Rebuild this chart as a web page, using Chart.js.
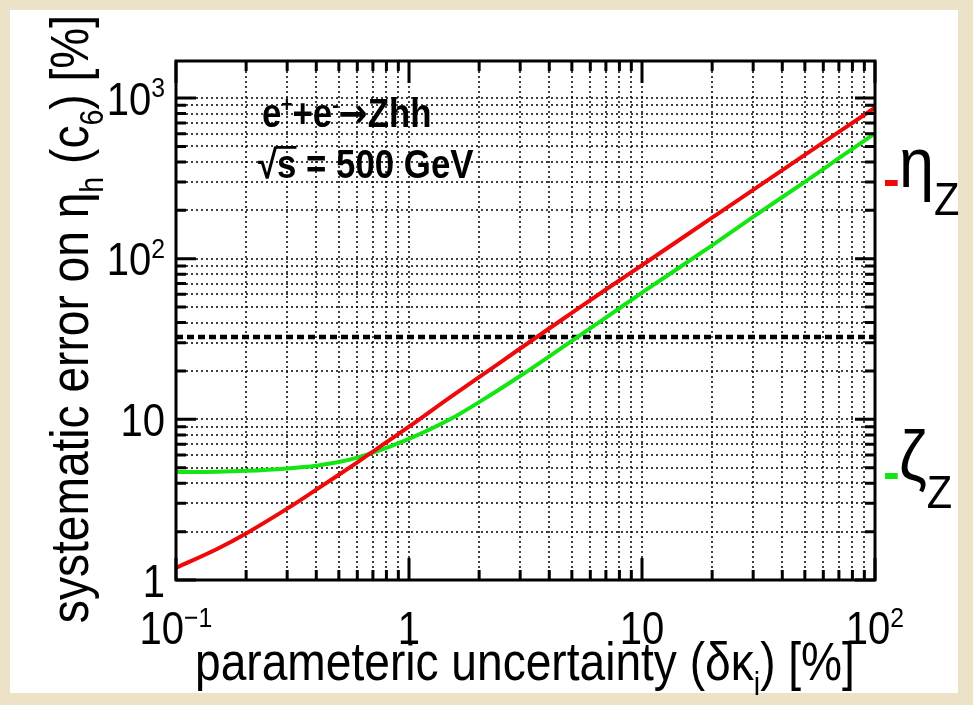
<!DOCTYPE html>
<html>
<head>
<meta charset="utf-8">
<script src="https://cdn.jsdelivr.net/npm/chart.js@4"></script>
<style>
  html, body { margin: 0; padding: 0; background: #ece2c7; overflow: hidden; }
  canvas { position: absolute; left: 0; top: 0; }
</style>
</head>
<body>
<canvas id="chart" width="973" height="705"></canvas>
<script>
// values (log-log)
const kappa = [0.1, 0.15, 0.2, 0.3, 0.4, 0.5, 0.6, 0.7, 0.8, 1, 1.5, 2, 3, 5, 7, 10, 20, 30, 50, 70, 100];
const etaZ  = [1.19, 1.56, 1.95, 2.78, 3.65, 4.52, 5.4, 6.3, 7.2, 9.0, 13.7, 18.3, 27.6, 46, 64.3, 91, 180, 268, 443, 615, 870];
const zetaZ = [4.70, 4.72, 4.78, 4.95, 5.15, 5.42, 5.78, 6.2, 6.65, 7.55, 10.0, 12.8, 18.6, 30.8, 43.0, 61.5, 121, 182, 301, 422, 603];
const refLevel = 32.6;

const xRange = [0.1, 100];
const yRange = [1, 1700];

const xMajor = [0.1, 1, 10, 100];
const xMajorBase = ["10", "1", "10", "10"];
const xMajorExp = ["\u22121", "", "", "2"];
const yMajor = [1, 10, 100, 1000];
const yMajorBase = ["1", "10", "10", "10"];
const yMajorExp = ["", "", "2", "3"];

const seriesNames = ["\u03b7", "\u03b6"];
const seriesSub = ["Z", "Z"];
const seriesColors = ["#ee0a0a", "#14e614"];

const FONT = '"Liberation Sans", Arial, Helvetica, sans-serif';

function logTicks(min, max) {
    const out = [];
    for (let e = Math.floor(Math.log10(min)); e <= Math.ceil(Math.log10(max)); e++) {
        for (let m = 1; m <= 9; m++) {
            const v = +(m * Math.pow(10, e)).toPrecision(6);
            if (v >= min * 0.999 && v <= max * 1.001) out.push(v);
        }
    }
    return out;
}

function partFont(p, size, bold) {
    const s = (p.sub || p.sup) ? size * (p.k || 0.62) : size;
    return (bold ? "bold " : "") + s + "px " + (p.font || FONT);
}

function drawParts(ctx, parts, x, y, o) {
    const size = o.size;
    ctx.save();
    ctx.translate(x, y);
    if (o.rot) ctx.rotate(o.rot);
    ctx.scale(o.sx || 1, 1);
    ctx.textBaseline = "alphabetic";
    ctx.textAlign = "left";
    let w = 0;
    for (const p of parts) {
        ctx.font = partFont(p, size, o.bold);
        w += ctx.measureText(p.t).width;
    }
    let cx = o.align === "center" ? -w / 2 : o.align === "right" ? -w : 0;
    for (const p of parts) {
        ctx.font = partFont(p, size, o.bold);
        ctx.fillStyle = p.color || o.color || "#000";
        let dy = 0;
        if (p.sub) dy = size * (p.dy || 0.28);
        if (p.sup) dy = -size * (p.dy || 0.38);
        ctx.fillText(p.t, cx, dy);
        const tw = ctx.measureText(p.t).width;
        if (p.over) ctx.fillRect(cx - 2, -size * 0.8, tw + 2, size * 0.07);
        cx += tw;
    }
    ctx.restore();
}

const rootStyle = {
    id: "rootStyle",
    beforeDraw(chart) {
        const c = chart.ctx;
        c.save();
        c.fillStyle = "#ece2c7";
        c.fillRect(0, 0, chart.width, chart.height);
        c.fillStyle = "#ffffff";
        c.fillRect(10, 10, 948, 683);
        c.restore();
    },
    beforeDatasetsDraw(chart) {
        const c = chart.ctx, a = chart.chartArea;
        const xs = chart.scales.x, ys = chart.scales.y;
        c.save();
        c.strokeStyle = "#000";
        c.lineWidth = 1.5;
        c.setLineDash([2, 3]);
        for (const v of logTicks(xRange[0], xRange[1])) {
            const px = Math.round(xs.getPixelForValue(v));
            c.beginPath(); c.moveTo(px, a.top); c.lineTo(px, a.bottom); c.stroke();
        }
        for (const v of logTicks(yRange[0], yRange[1])) {
            const py = Math.round(ys.getPixelForValue(v));
            c.beginPath(); c.moveTo(a.left, py); c.lineTo(a.right, py); c.stroke();
        }
        c.restore();
    },
    afterDraw(chart) {
        const c = chart.ctx, a = chart.chartArea;
        const xs = chart.scales.x, ys = chart.scales.y;
        c.save();
        c.strokeStyle = "#000";
        c.lineWidth = 3;
        c.setLineDash([]);
        c.strokeRect(a.left, a.top, a.right - a.left, a.bottom - a.top);
        // ticks on all four sides
        for (const v of logTicks(xRange[0], xRange[1])) {
            const px = xs.getPixelForValue(v);
            const len = xMajor.includes(v) ? 22 : 10;
            c.beginPath();
            c.moveTo(px, a.bottom); c.lineTo(px, a.bottom - len);
            c.moveTo(px, a.top); c.lineTo(px, a.top + len);
            c.stroke();
        }
        for (const v of logTicks(yRange[0], yRange[1])) {
            const py = ys.getPixelForValue(v);
            const len = yMajor.includes(v) ? 20 : 10;
            c.beginPath();
            c.moveTo(a.left, py); c.lineTo(a.left + len, py);
            c.moveTo(a.right, py); c.lineTo(a.right - len, py);
            c.stroke();
        }
        c.restore();

        const tickSize = 46, sx = 0.87;
        xMajor.forEach((v, i) => {
            const parts = [{ t: xMajorBase[i] }];
            if (xMajorExp[i]) parts.push({ t: xMajorExp[i], sup: true });
            drawParts(c, parts, xs.getPixelForValue(v), 644, { size: tickSize, sx, align: "center" });
        });
        yMajor.forEach((v, i) => {
            const parts = [{ t: yMajorBase[i] }];
            if (yMajorExp[i]) parts.push({ t: yMajorExp[i], sup: true });
            drawParts(c, parts, 165, ys.getPixelForValue(v) + 16.5, { size: tickSize, sx, align: "right" });
        });

        // axis titles
        drawParts(c, [
            { t: "parameteric uncertainty (\u03b4\u03ba" },
            { t: "i", sub: true },
            { t: ") [%]" }
        ], 525, 680, { size: 53, sx: 0.87, align: "center" });
        drawParts(c, [
            { t: "systematic error on \u03b7" },
            { t: "h", sub: true },
            { t: " (c" },
            { t: "6", sub: true },
            { t: ") [%]" }
        ], 88, 319, { size: 53, sx: 0.87, align: "center", rot: -Math.PI / 2 });

        // process labels
        drawParts(c, [
            { t: "e" }, { t: "+", sup: true, k: 0.55 },
            { t: "+e" }, { t: "-", sup: true, k: 0.55 },
            { t: "\u2192", font: '"DejaVu Sans", sans-serif' },
            { t: "Zhh" }
        ], 262, 127, { size: 40, sx: 0.87, bold: true });
        drawParts(c, [
            { t: "\u221a" }, { t: "s", over: true }, { t: " = 500 GeV" }
        ], 258, 178, { size: 40, sx: 0.87, bold: true });

        // series labels on the right
        const legendY = [187, 480];
        seriesNames.forEach((name, i) => {
            drawParts(c, [{ t: "-" }], 883, legendY[i] + 9, { size: 50, sx: 1, bold: true, color: seriesColors[i] });
            drawParts(c, [
                { t: name },
                { t: seriesSub[i], sub: true, k: 0.66, dy: 0.4 }
            ], 899, legendY[i], { size: 70, sx: 0.9 });
        });
    }
};

const pts = (ys) => kappa.map((k, i) => ({ x: k, y: ys[i] }));

new Chart(document.getElementById("chart"), {
    type: "line",
    data: {
        datasets: [{
            label: "eta_Z",
            data: pts(etaZ),
            borderColor: seriesColors[0],
            borderWidth: 4,
            pointRadius: 0,
            cubicInterpolationMode: "monotone"
        }, {
            label: "zeta_Z",
            data: pts(zetaZ),
            borderColor: seriesColors[1],
            borderWidth: 4,
            pointRadius: 0,
            cubicInterpolationMode: "monotone"
        }, {
            label: "ref",
            data: [{ x: xRange[0], y: refLevel }, { x: xRange[1], y: refLevel }],
            borderColor: "#000",
            borderWidth: 4.5,
            borderDash: [7, 4],
            pointRadius: 0
        }]
    },
    options: {
        responsive: false,
        animation: false,
        devicePixelRatio: 1,
        layout: { padding: { left: 176, right: 98, top: 61, bottom: 125 } },
        plugins: { legend: { display: false }, tooltip: { enabled: false } },
        scales: {
            x: { type: "logarithmic", min: xRange[0], max: xRange[1], display: false },
            y: { type: "logarithmic", min: yRange[0], max: yRange[1], display: false }
        }
    },
    plugins: [rootStyle]
});
</script>
</body>
</html>
